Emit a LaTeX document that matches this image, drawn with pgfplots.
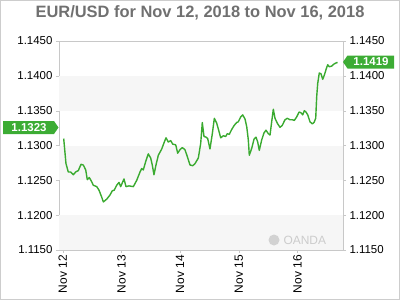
\documentclass[border=0pt]{standalone}
\usepackage{pgfplots}
\pgfplotsset{compat=1.18}
\usepackage{pgfplotstable}
\usepackage{fontspec}
\setmainfont{Liberation Sans}
\definecolor{linegreen}{RGB}{58,170,48}
\definecolor{boxgreen}{RGB}{60,172,52}
\definecolor{bandgray}{RGB}{246,246,246}
\definecolor{framegray}{RGB}{200,200,200}
\definecolor{titlegray}{RGB}{112,112,112}
\definecolor{bordergray}{RGB}{205,205,205}

\pgfplotstableread{
d v
0.017 1.1310
0.056 1.1274
0.095 1.1262
0.136 1.1262
0.181 1.1258
0.221 1.1262
0.266 1.1264
0.312 1.1273
0.351 1.1272
0.392 1.1265
0.419 1.1251
0.453 1.1254
0.494 1.1248
0.521 1.1243
0.579 1.1241
0.618 1.1236
0.664 1.1226
0.692 1.1219
0.750 1.1223
0.806 1.1229
0.845 1.1235
0.879 1.1236
0.920 1.1243
0.959 1.1247
0.988 1.1241
1.044 1.1252
1.078 1.1241
1.129 1.1242
1.203 1.1241
1.261 1.1250
1.317 1.1262
1.346 1.1267
1.373 1.1265
1.414 1.1277
1.458 1.1288
1.499 1.1282
1.526 1.1272
1.555 1.1258
1.589 1.1272
1.629 1.1286
1.687 1.1295
1.731 1.1305
1.760 1.1311
1.799 1.1305
1.840 1.1307
1.874 1.1302
1.925 1.1301
1.959 1.1289
1.998 1.1294
2.037 1.1297
2.083 1.1294
2.123 1.1284
2.169 1.1272
2.215 1.1271
2.254 1.1274
2.310 1.1282
2.351 1.1303
2.378 1.1333
2.407 1.1313
2.441 1.1312
2.470 1.1310
2.509 1.1295
2.549 1.1317
2.583 1.1339
2.624 1.1332
2.663 1.1320
2.692 1.1311
2.736 1.1314
2.777 1.1313
2.804 1.1317
2.838 1.1316
2.879 1.1323
2.923 1.1329
2.964 1.1333
2.991 1.1334
3.032 1.1341
3.066 1.1344
3.106 1.1338
3.135 1.1327
3.162 1.1308
3.179 1.1286
3.220 1.1296
3.259 1.1309
3.293 1.1312
3.322 1.1305
3.349 1.1293
3.390 1.1308
3.429 1.1318
3.463 1.1322
3.503 1.1317
3.532 1.1315
3.560 1.1334
3.588 1.1352
3.617 1.1339
3.656 1.1332
3.702 1.1326
3.741 1.1329
3.787 1.1337
3.826 1.1339
3.872 1.1337
3.911 1.1337
3.945 1.1336
3.986 1.1341
4.026 1.1348
4.060 1.1347
4.089 1.1344
4.116 1.1350
4.145 1.1348
4.174 1.1344
4.213 1.1334
4.252 1.1331
4.281 1.1333
4.310 1.1339
4.327 1.1370
4.344 1.1389
4.371 1.1404
4.400 1.1403
4.429 1.1395
4.457 1.1401
4.486 1.1409
4.514 1.1416
4.542 1.1413
4.583 1.1414
4.622 1.1417
4.668 1.1419
4.685 1.1419
}\eurusd

\begin{document}
\begin{tikzpicture}
\draw[draw=bordergray, line width=1bp] (0.5bp,-0.5bp) rectangle (399.5bp,-299.5bp);
\node[font=\bfseries\fontsize{16.5}{17}\selectfont, text=titlegray] at (200bp,-13bp) {EUR/USD for Nov 12, 2018 to Nov 16, 2018};

\begin{axis}[
  at={(59bp,-250bp)}, anchor=south west,
  width=284bp, height=209bp, scale only axis,
  xmin=-0.063, xmax=4.775, ymin=1.115, ymax=1.145,
  axis line style={draw=framegray},
  xtick={0,1,2,3,4},
  xticklabels={Nov 12,Nov 13,Nov 14,Nov 15,Nov 16},
  xticklabel style={rotate=90, anchor=east, font=\fontsize{12}{12}\selectfont, inner sep=2bp},
  ytick={1.115,1.12,1.125,1.13,1.135,1.14,1.145},
  yticklabel style={font=\fontsize{11.5}{11.5}\selectfont, /pgf/number format/.cd, fixed, fixed zerofill, precision=4, assume math mode=true},
  scaled y ticks=false,
  tick align=outside, major tick length=3bp,
  tick style={draw=framegray},
  xtick pos=bottom, ytick pos=left,
  clip=false,
]
\fill[bandgray] (axis cs:-0.063,1.115) rectangle (axis cs:4.775,1.12);
\fill[bandgray] (axis cs:-0.063,1.125) rectangle (axis cs:4.775,1.13);
\fill[bandgray] (axis cs:-0.063,1.135) rectangle (axis cs:4.775,1.14);
\addplot[color=linegreen, line width=1.4bp, line join=round, no marks] table[x=d, y=v] {\eurusd};
\end{axis}

\begin{axis}[
  at={(59bp,-250bp)}, anchor=south west,
  width=284bp, height=209bp, scale only axis,
  xmin=-0.063, xmax=4.775, ymin=1.115, ymax=1.145,
  axis x line=none, axis y line*=right,
  axis line style={draw=framegray},
  ytick={1.115,1.12,1.125,1.13,1.135,1.14,1.145},
  yticklabel style={font=\fontsize{11.5}{11.5}\selectfont, /pgf/number format/.cd, fixed, fixed zerofill, precision=4, assume math mode=true},
  scaled y ticks=false,
  tick align=outside, major tick length=3bp,
  tick style={draw=framegray},
]
\end{axis}

% OANDA watermark
\fill[gray!35] (274bp,-240bp) circle (5.5bp);
\node[text=gray!40, font=\fontsize{12}{12}\selectfont, anchor=west] at (280bp,-240bp) {OANDA};

% value tags
\fill[boxgreen] (3bp,-121bp) -- (54bp,-121bp) -- (58.5bp,-127.5bp) -- (54bp,-134bp) -- (3bp,-134bp) -- cycle;
\node[text=white, font=\bfseries\fontsize{11.5}{11.5}\selectfont] at (29bp,-127.5bp) {1.1323};
\fill[boxgreen] (343bp,-62bp) -- (347.5bp,-55.5bp) -- (394bp,-55.5bp) -- (394bp,-68.5bp) -- (347.5bp,-68.5bp) -- cycle;
\node[text=white, font=\bfseries\fontsize{11.5}{11.5}\selectfont] at (371bp,-62bp) {1.1419};
\end{tikzpicture}
\end{document}
